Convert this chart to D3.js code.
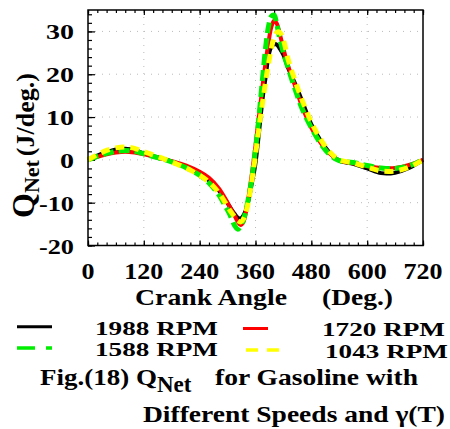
<!DOCTYPE html>
<html><head><meta charset="utf-8">
<script src="https://cdn.jsdelivr.net/npm/d3@7"></script>
<style>body{margin:0;background:#fff}</style>
</head><body>
<svg id="c" width="450" height="429"></svg>
<script>
const angles  = [0,20,40,60,80,100,120,150,180,210,240,260,280,295,305,315,322,328,334,340,346,352,358,364,370,376,382,388,394,400,406,412,420,430,445,460,480,500,520,540,570,600,630,660,690,720];
const rpm1988 = [0,1.0,1.8,2.4,2.6,2.3,1.5,0.6,-0.4,-1.6,-3.2,-4.8,-7.0,-9.3,-11.0,-12.6,-13.5,-13.7,-13.0,-11.5,-9.0,-5.5,-2.2,2.8,9.0,15.0,19.5,24.3,26.4,27.0,26.9,26.0,24.5,21.5,17.8,13.8,8.3,4.5,1.6,-0.2,-0.9,-2.0,-3.1,-3.0,-1.9,0];
const rpm1720 = [0,0.7,1.3,1.7,1.9,1.7,1.3,0.5,-0.3,-1.3,-2.8,-4.2,-6.5,-9.0,-11.0,-13.0,-14.5,-15.2,-14.5,-12.0,-8.0,-3.5,1.5,7.0,12.5,18.0,23.0,27.5,31.0,32.5,31.8,29.5,26.0,22.0,17.3,12.5,7.5,4.0,1.4,-0.1,-0.8,-1.5,-1.9,-1.9,-1.2,0];
const rpm1588 = [0,0.8,1.5,2.0,2.2,2.0,1.4,0.5,-0.5,-1.8,-3.6,-5.4,-8.0,-10.8,-12.8,-15.3,-16.2,-15.5,-14.0,-11.5,-8.3,-4.5,0.8,6.3,13.0,20.0,26.5,31.2,33.5,33.8,31.5,28.4,25.0,21.5,16.5,12.0,7.5,3.8,1.2,-0.2,-0.6,-1.3,-1.9,-2.0,-1.4,0];
const rpm1043 = [0,1.2,2.2,2.8,3.0,2.7,1.9,0.8,-0.5,-1.9,-3.6,-5.2,-7.5,-10.0,-11.8,-13.3,-14.2,-14.5,-13.8,-12.0,-9.0,-5.0,-0.5,4.5,9.5,14.0,18.5,22.5,26.0,28.5,29.8,29.8,28.0,23.5,18.5,14.0,8.8,4.8,1.8,0.0,-0.7,-1.7,-2.6,-2.6,-1.7,0];
const seriesNames = ["1988 RPM","1720 RPM","1588 RPM","1043 RPM"];
const xTicks = [0,120,240,360,480,600,720];
const yTicks = [-20,-10,0,10,20,30];

const svg = d3.select("#c");
const L=88, R=423, T=10, B=245.5;
const x = d3.scaleLinear().domain([0,720]).range([L,R]);
const y = d3.scaleLinear().domain([-20,35]).range([B,T]);
const FF = "Liberation Serif";

// grid
const g = svg.append("g");
g.selectAll(".gx").data(xTicks.filter(d=>d>0&&d<720)).enter().append("line")
  .attr("x1",d=>x(d)).attr("x2",d=>x(d)).attr("y1",T).attr("y2",B)
  .attr("stroke","#bbb").attr("stroke-width",1).attr("stroke-dasharray","1,6");
g.selectAll(".gy").data(yTicks.filter(d=>d>-20)).enter().append("line")
  .attr("x1",L).attr("x2",R).attr("y1",d=>y(d)).attr("y2",d=>y(d))
  .attr("stroke","#bbb").attr("stroke-width",1).attr("stroke-dasharray","1,6");

// ticks
const xMinor = d3.range(0,721,20);
const yMinor = d3.range(-20,35.1,2);
function styleAx(a){a.select(".domain").remove();a.selectAll("line").attr("stroke","#000").attr("stroke-width",1.2);}
svg.append("g").attr("transform",`translate(0,${B})`).call(d3.axisBottom(x).tickValues(xMinor).tickSize(-3).tickFormat("")).call(styleAx);
svg.append("g").attr("transform",`translate(0,${T})`).call(d3.axisTop(x).tickValues(xMinor).tickSize(-3).tickFormat("")).call(styleAx);
svg.append("g").attr("transform",`translate(${L},0)`).call(d3.axisLeft(y).tickValues(yMinor).tickSize(-4).tickFormat("")).call(styleAx);
svg.append("g").attr("transform",`translate(0,${B})`).call(d3.axisBottom(x).tickValues(xTicks).tickSize(-5).tickFormat("")).call(styleAx);
svg.append("g").attr("transform",`translate(0,${T})`).call(d3.axisTop(x).tickValues(xTicks).tickSize(-5).tickFormat("")).call(styleAx);
svg.append("g").attr("transform",`translate(${L},0)`).call(d3.axisLeft(y).tickValues(yTicks).tickSize(-7).tickFormat("")).call(styleAx);

// series
const series = [
  {v:rpm1988, c:"#000000", w:4, dash:null},
  {v:rpm1720, c:"#ff0000", w:4, dash:null},
  {v:rpm1588, c:"#00ee00", w:5, dash:"11,5"},
  {v:rpm1043, c:"#ffff00", w:5, dash:"9,6"}
];
const line = d3.line().x((d,i)=>x(angles[i])).y(d=>y(d)).curve(d3.curveCatmullRom);
series.forEach(s=>{
  svg.append("path").datum(s.v).attr("d",line).attr("fill","none")
    .attr("stroke",s.c).attr("stroke-width",s.w)
    .attr("stroke-dasharray",s.dash);
});

// frame
svg.append("rect").attr("x",L).attr("y",T).attr("width",R-L).attr("height",B-T)
  .attr("fill","none").attr("stroke","#000").attr("stroke-width",1.5);

function T_(sel){return sel.attr("font-family",FF).attr("font-weight","bold").attr("fill","#000");}

// tick labels
svg.selectAll(".xl").data(xTicks).enter().append("text").call(T_)
  .attr("x",d=>x(d)).attr("y",279).attr("text-anchor","middle")
  .attr("font-size",23).attr("textLength",d=>String(d).length*13).attr("lengthAdjust","spacingAndGlyphs")
  .text(d=>d);
svg.selectAll(".yl").data(yTicks).enter().append("text").call(T_)
  .attr("x",74).attr("y",d=>y(d)+8).attr("text-anchor","end")
  .attr("font-size",22).attr("textLength",d=>String(d).replace("-","").length*14 + (d<0?7:0)).attr("lengthAdjust","spacingAndGlyphs")
  .text(d=>d);

// axis titles
svg.append("text").call(T_).attr("x",135).attr("y",305).attr("font-size",23)
  .attr("textLength",152).attr("lengthAdjust","spacingAndGlyphs").text("Crank Angle");
svg.append("text").call(T_).attr("x",322).attr("y",305).attr("font-size",23)
  .attr("textLength",71).attr("lengthAdjust","spacingAndGlyphs").text("(Deg.)");

const yt = svg.append("text").call(T_).attr("transform","translate(34,218) rotate(-90)");
yt.append("tspan").attr("font-size",32).text("Q");
yt.append("tspan").attr("font-size",22).attr("dy",5).text("Net");
yt.append("tspan").attr("font-size",26).attr("dy",-5).attr("dx",4).text("(J/deg.)");

// legend
const legend = [
  {name:seriesNames[0], c:"#000", w:3, dash:null, x1:17, x2:52, ly:326.7, tx:95, ty:335},
  {name:seriesNames[1], c:"#ff0000", w:3, dash:null, x1:243, x2:268, ly:328.5, tx:322, ty:336},
  {name:seriesNames[2], c:"#00ee00", w:3.5, dash:"18,11", x1:17, x2:52, ly:348, tx:95, ty:355.5},
  {name:seriesNames[3], c:"#ffff00", w:3.5, dash:"12,9", x1:246, x2:279, ly:350, tx:325, ty:358}
];
legend.forEach(l=>{
  svg.append("line").attr("x1",l.x1).attr("x2",l.x2).attr("y1",l.ly).attr("y2",l.ly)
    .attr("stroke",l.c).attr("stroke-width",l.w).attr("stroke-dasharray",l.dash);
  svg.append("text").call(T_).attr("x",l.tx).attr("y",l.ty).attr("font-size",19.5)
    .attr("textLength",123).attr("lengthAdjust","spacingAndGlyphs").text(l.name);
});

// caption
const c1 = svg.append("text").call(T_).attr("x",40).attr("y",385).attr("font-size",23);
c1.append("tspan").attr("textLength",117).attr("lengthAdjust","spacingAndGlyphs").text("Fig.(18) Q");
c1.append("tspan").attr("dy",7).attr("font-size",23).text("Net");
svg.append("text").call(T_).attr("x",215).attr("y",385).attr("font-size",23)
  .attr("textLength",203).attr("lengthAdjust","spacingAndGlyphs").text("for Gasoline with");
svg.append("text").call(T_).attr("x",143).attr("y",421.5).attr("font-size",23)
  .attr("textLength",302).attr("lengthAdjust","spacingAndGlyphs").text("Different Speeds and γ(T)");
</script>
</body></html>
